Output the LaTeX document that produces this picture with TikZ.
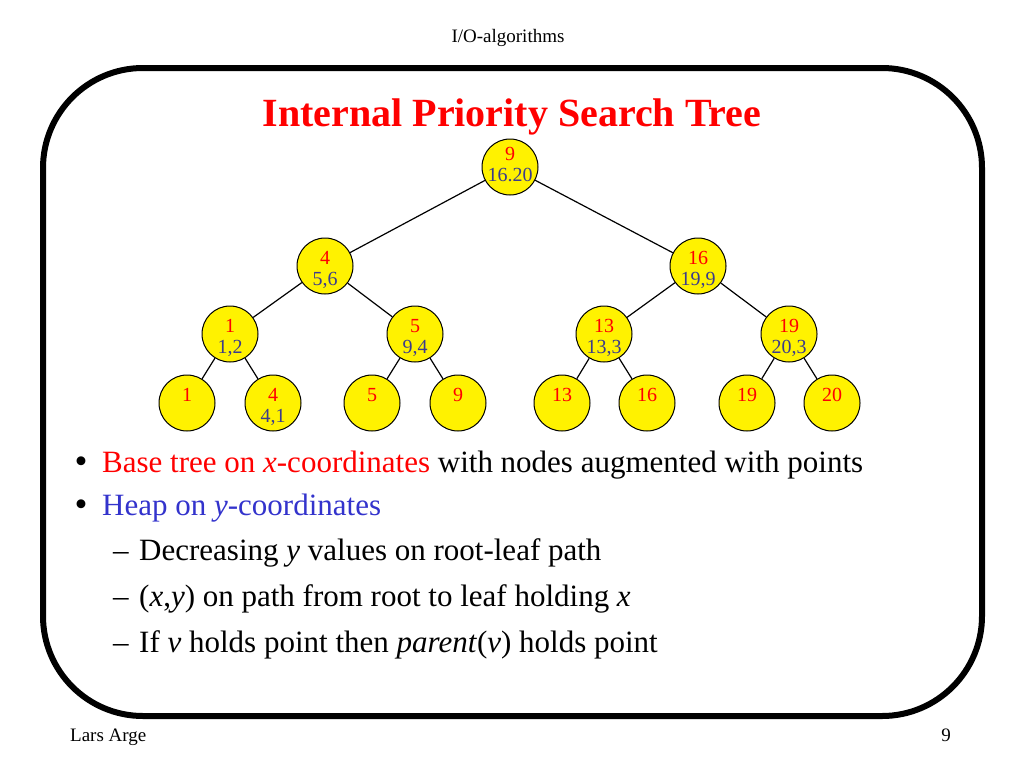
\documentclass[tikz,border=0pt]{standalone}
\usepackage{fontspec}
\setmainfont{Liberation Serif}
\definecolor{tred}{HTML}{FF0000}
\definecolor{nblue}{HTML}{3C3C8C}
\definecolor{hblue}{HTML}{3333CC}
\begin{document}
\begin{tikzpicture}[x=1pt,y=-1pt,
 tnode/.style={circle,draw=black,fill=yellow,line width=1pt,minimum size=56pt,inner sep=0pt},
 keytxt/.style={text=tred,font=\fontsize{20}{20}\selectfont,inner sep=0pt,anchor=base},
 pttxt/.style={text=nblue,font=\fontsize{20}{20}\selectfont,inner sep=0pt,anchor=base},
 edge/.style={line width=1.2pt,draw=black},
 body/.style={font=\fontsize{31}{31}\selectfont,anchor=base west,inner sep=0pt},
 bul/.style={font=\fontsize{37}{37}\selectfont,anchor=center,inner sep=0pt},
 small/.style={font=\fontsize{19}{19}\selectfont,inner sep=0pt},
 ]
\useasboundingbox (0,0) rectangle (1024,768);
\draw[line width=6pt,rounded corners=100pt] (43,68) rectangle (982,716);

\node[small,anchor=base] (hdr) at (508,42) {I/O-algorithms};
\node[small,anchor=base west] (ftr) at (70,741) {Lars Arge};
\node[small,anchor=base] (pg) at (946,741) {9};
\node[font=\bfseries\fontsize{40}{40}\selectfont,text=tred,anchor=base,inner sep=0pt] (title) at (512,126) {Internal Priority Search Tree};

% tree nodes
\node[tnode] (n9) at (510,167) {};
\node[tnode] (n4) at (325,266) {};
\node[tnode] (n16) at (698,266) {};
\node[tnode] (n1) at (230,334) {};
\node[tnode] (n5) at (415,334) {};
\node[tnode] (n13) at (604,334) {};
\node[tnode] (n19) at (789,334) {};
\node[tnode] (l1) at (187,403) {};
\node[tnode] (l4) at (273,403) {};
\node[tnode] (l5) at (372,403) {};
\node[tnode] (l9) at (458,403) {};
\node[tnode] (l13) at (562,403) {};
\node[tnode] (l16) at (647,403) {};
\node[tnode] (l19) at (747,403) {};
\node[tnode] (l20) at (832,403) {};

% edges
\draw[edge] (n9) -- (n4);
\draw[edge] (n9) -- (n16);
\draw[edge] (n4) -- (n1);
\draw[edge] (n4) -- (n5);
\draw[edge] (n16) -- (n13);
\draw[edge] (n16) -- (n19);
\draw[edge] (n1) -- (l1);
\draw[edge] (n1) -- (l4);
\draw[edge] (n5) -- (l5);
\draw[edge] (n5) -- (l9);
\draw[edge] (n13) -- (l13);
\draw[edge] (n13) -- (l16);
\draw[edge] (n19) -- (l19);
\draw[edge] (n19) -- (l20);

% labels
\node[keytxt] (n9k) at ([yshift=7pt]n9.center) {9};
\node[pttxt] (n9p) at ([yshift=-14pt]n9.center) {16.20};
\node[keytxt] (n4k) at ([yshift=2pt]n4.center) {4};
\node[pttxt] (n4p) at ([yshift=-19pt]n4.center) {5,6};
\node[keytxt] (n16k) at ([yshift=2pt]n16.center) {16};
\node[pttxt] (n16p) at ([yshift=-19pt]n16.center) {19,9};
\node[keytxt] (n1k) at ([yshift=2pt]n1.center) {1};
\node[pttxt] (n1p) at ([yshift=-19pt]n1.center) {1,2};
\node[keytxt] (n5k) at ([yshift=2pt]n5.center) {5};
\node[pttxt] (n5p) at ([yshift=-19pt]n5.center) {9,4};
\node[keytxt] (n13k) at ([yshift=2pt]n13.center) {13};
\node[pttxt] (n13p) at ([yshift=-19pt]n13.center) {13,3};
\node[keytxt] (n19k) at ([yshift=2pt]n19.center) {19};
\node[pttxt] (n19p) at ([yshift=-19pt]n19.center) {20,3};
\node[keytxt] (l1k) at ([yshift=2pt]l1.center) {1};
\node[keytxt] (l4k) at ([yshift=2pt]l4.center) {4};
\node[pttxt] (l4p) at ([yshift=-19pt]l4.center) {4,1};
\node[keytxt] (l5k) at ([yshift=2pt]l5.center) {5};
\node[keytxt] (l9k) at ([yshift=2pt]l9.center) {9};
\node[keytxt] (l13k) at ([yshift=2pt]l13.center) {13};
\node[keytxt] (l16k) at ([yshift=2pt]l16.center) {16};
\node[keytxt] (l19k) at ([yshift=2pt]l19.center) {19};
\node[keytxt] (l20k) at ([yshift=2pt]l20.center) {20};

% body text
\node[bul] (b1) at (81,465) {•};
\node[body] (t1) at (102,472) {\textcolor{tred}{Base tree on \textit{x}-coordinates} with nodes augmented with points};
\node[bul] (b2) at (81,508) {•};
\node[body] (t2) at (102,515) {\textcolor{hblue}{Heap on \textit{y}-coordinates}};
\node[body] (d3) at (113,560) {–};
\node[body] (t3) at (139,560) {Decreasing \textit{y} values on root-leaf path};
\node[body] (d4) at (113,606) {–};
\node[body] (t4) at (139,606) {(\textit{x},\textit{y}) on path from root to leaf holding \textit{x}};
\node[body] (d5) at (113,652) {–};
\node[body] (t5) at (139,652) {If \textit{v} holds point then \textit{parent}(\textit{v}) holds point};
\end{tikzpicture}
\end{document}
